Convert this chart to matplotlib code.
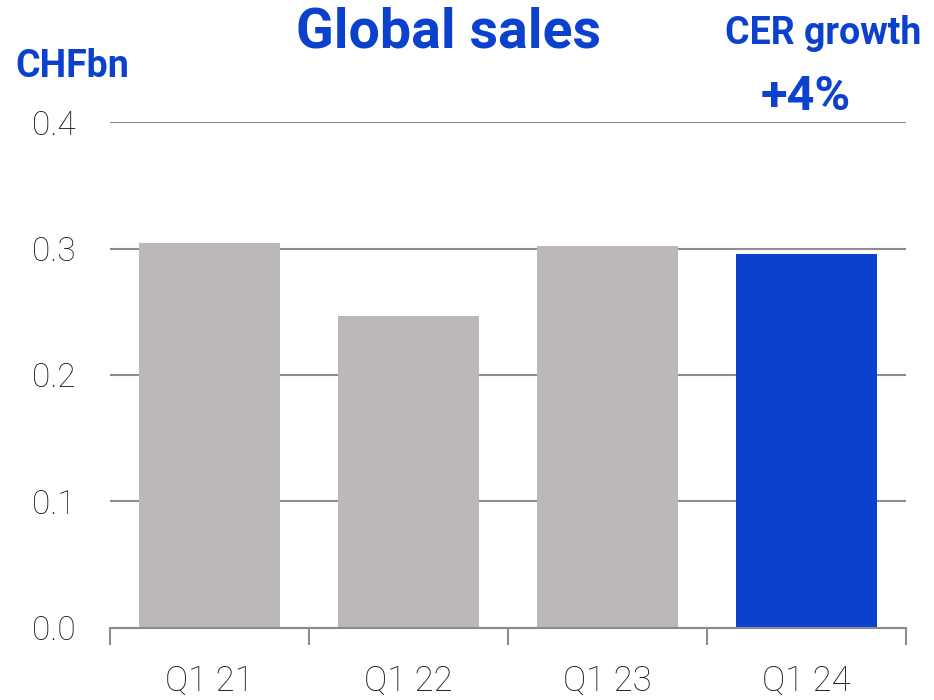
import matplotlib
matplotlib.use("Agg")
from matplotlib import pyplot as plt
import numpy as np

quarters = ["Q1 21", "Q1 22", "Q1 23", "Q1 24"]
sales = [0.304, 0.247, 0.302, 0.296]
bar_colors = ["#BBB8B7", "#BBB8B7", "#BBB8B7", "#0B41CD"]
y_ticks = [0.0, 0.1, 0.2, 0.3, 0.4]
growth_text = "+4%"

BLUE = "#0B41CD"
GRID = "#8C8C8C"

fig = plt.figure(figsize=(9.34, 7.0), dpi=100)
ax = fig.add_axes([0.1178, 0.1029, 0.8522, 0.7228])

x = np.arange(len(quarters))
ax.bar(x, sales, width=0.71, color=bar_colors, zorder=3)

ax.set_xlim(-0.5, len(quarters) - 0.5)
ax.set_ylim(0, 0.4)
ax.set_yticks(y_ticks)
ax.set_yticklabels(["%.1f" % v for v in y_ticks], fontsize=24, fontweight="light",
                   family="Roboto", color="#1a1a1a")
ax.yaxis.grid(True, color=GRID, linewidth=1.5, zorder=0)
ax.tick_params(axis="y", length=0, pad=25)

# labels at bar centres, tick marks between categories
ax.set_xticks(x)
ax.set_xticklabels(quarters, fontsize=25, fontweight="light", family="Roboto", color="#1a1a1a")
ax.set_xticks(np.arange(len(quarters) + 1) - 0.5, minor=True)
ax.tick_params(axis="x", which="major", length=0, pad=26)
ax.tick_params(axis="x", which="minor", length=12, width=1.5, color=GRID)

for side in ["left", "right", "top"]:
    ax.spines[side].set_visible(False)
ax.spines["bottom"].set_color(GRID)
ax.spines["bottom"].set_linewidth(1.5)
ax.spines["bottom"].set_zorder(4)

fig.text(0.480, 0.953, "Global sales", ha="center", va="center", fontsize=40,
         fontweight="bold", family="Roboto", color=BLUE)
fig.text(0.016, 0.905, "CHFbn", ha="left", va="center", fontsize=27,
         fontweight="bold", family="Roboto", color=BLUE)
fig.text(0.881, 0.952, "CER growth", ha="center", va="center", fontsize=27,
         fontweight="bold", family="Roboto", color=BLUE)
fig.text(0.863, 0.862, growth_text, ha="center", va="center", fontsize=35,
         fontweight="bold", family="Roboto", color=BLUE)

fig.savefig("out.png", dpi=100)
